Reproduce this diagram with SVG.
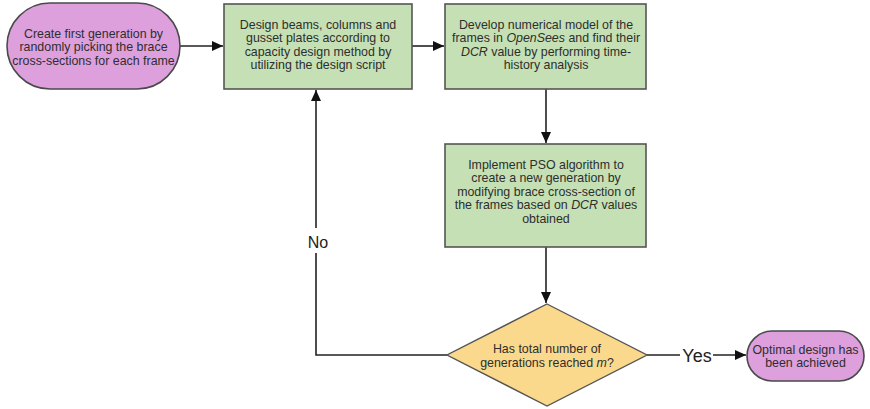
<svg xmlns="http://www.w3.org/2000/svg" width="870" height="409" viewBox="0 0 870 409">
<style>
.t{font-family:"Liberation Sans",Arial,sans-serif;font-size:12.4px;fill:#2e2e2e;text-anchor:middle}
.lbl{font-family:"Liberation Sans",Arial,sans-serif;fill:#222;text-anchor:middle}
.pur{fill:#dda0dd;stroke:#4a4a4a;stroke-width:1.6}
.grn{fill:#c5e0b4;stroke:#555;stroke-width:1.6}
.dia{fill:#fbd98c;stroke:#555;stroke-width:1.4}
.ln{fill:none;stroke:#222;stroke-width:1.6}
</style>
<defs>
<marker id="ah" markerUnits="userSpaceOnUse" markerWidth="12" markerHeight="12" viewBox="0 0 12 12" refX="11" refY="6" orient="auto">
<path d="M0,1 L11,6 L0,11 Z" fill="#111"/>
</marker>
</defs>
<rect width="870" height="409" fill="#fff"/>
<g id="connectors">
<line class="ln" x1="180" y1="46" x2="223" y2="46" marker-end="url(#ah)"/>
<line class="ln" x1="412" y1="46" x2="444" y2="46" marker-end="url(#ah)"/>
<line class="ln" x1="546" y1="89" x2="546" y2="143" marker-end="url(#ah)"/>
<line class="ln" x1="546" y1="247" x2="546" y2="303" marker-end="url(#ah)"/>
<polyline class="ln" points="447,355 316,355 316,253"/>
<line class="ln" x1="316" y1="228" x2="316" y2="90" marker-end="url(#ah)"/>
<text class="lbl" x="318" y="248" font-size="16">No</text>
<line class="ln" x1="647" y1="355" x2="680" y2="355"/>
<line class="ln" x1="713" y1="355" x2="746" y2="355" marker-end="url(#ah)"/>
<text class="lbl" x="697" y="361.5" font-size="18">Yes</text>
</g>
<g id="start">
<rect class="pur" x="7" y="3" width="173" height="86" rx="43" ry="43"/>
<text class="t" x="93.5" y="37.5">Create first generation by</text>
<text class="t" x="93.5" y="51">randomly picking the brace</text>
<text class="t" x="93.5" y="64.5">cross-sections for each frame</text>
</g>
<g id="design">
<rect class="grn" x="224" y="4" width="188" height="85"/>
<text class="t" x="318" y="28.5">Design beams, columns and</text>
<text class="t" x="318" y="42">gusset plates according to</text>
<text class="t" x="318" y="55.5">capacity design method by</text>
<text class="t" x="318" y="69">utilizing the design script</text>
</g>
<g id="model">
<rect class="grn" x="445" y="4" width="201" height="85"/>
<text class="t" x="546" y="28.5">Develop numerical model of the</text>
<text class="t" x="546" y="42">frames in <tspan font-style="italic">OpenSees</tspan> and find their</text>
<text class="t" x="546" y="55.5"><tspan font-style="italic">DCR</tspan> value by performing time-</text>
<text class="t" x="546" y="69">history analysis</text>
</g>
<g id="pso">
<rect class="grn" x="445" y="144" width="201" height="103"/>
<text class="t" x="546" y="168.5">Implement PSO algorithm to</text>
<text class="t" x="546" y="182">create a new generation by</text>
<text class="t" x="546" y="195.5">modifying brace cross-section of</text>
<text class="t" x="546" y="209">the frames based on <tspan font-style="italic">DCR</tspan> values</text>
<text class="t" x="546" y="222.5">obtained</text>
</g>
<g id="decision">
<polygon class="dia" points="547,304 647,355 547,406 447,355"/>
<text class="t" x="547" y="352.5">Has total number of</text>
<text class="t" x="547" y="366.5">generations reached <tspan font-style="italic">m</tspan>?</text>
</g>
<g id="end">
<rect class="pur" x="747" y="331" width="117" height="50" rx="25" ry="25"/>
<text class="t" x="805.5" y="353.5">Optimal design has</text>
<text class="t" x="805.5" y="367">been achieved</text>
</g>
</svg>
